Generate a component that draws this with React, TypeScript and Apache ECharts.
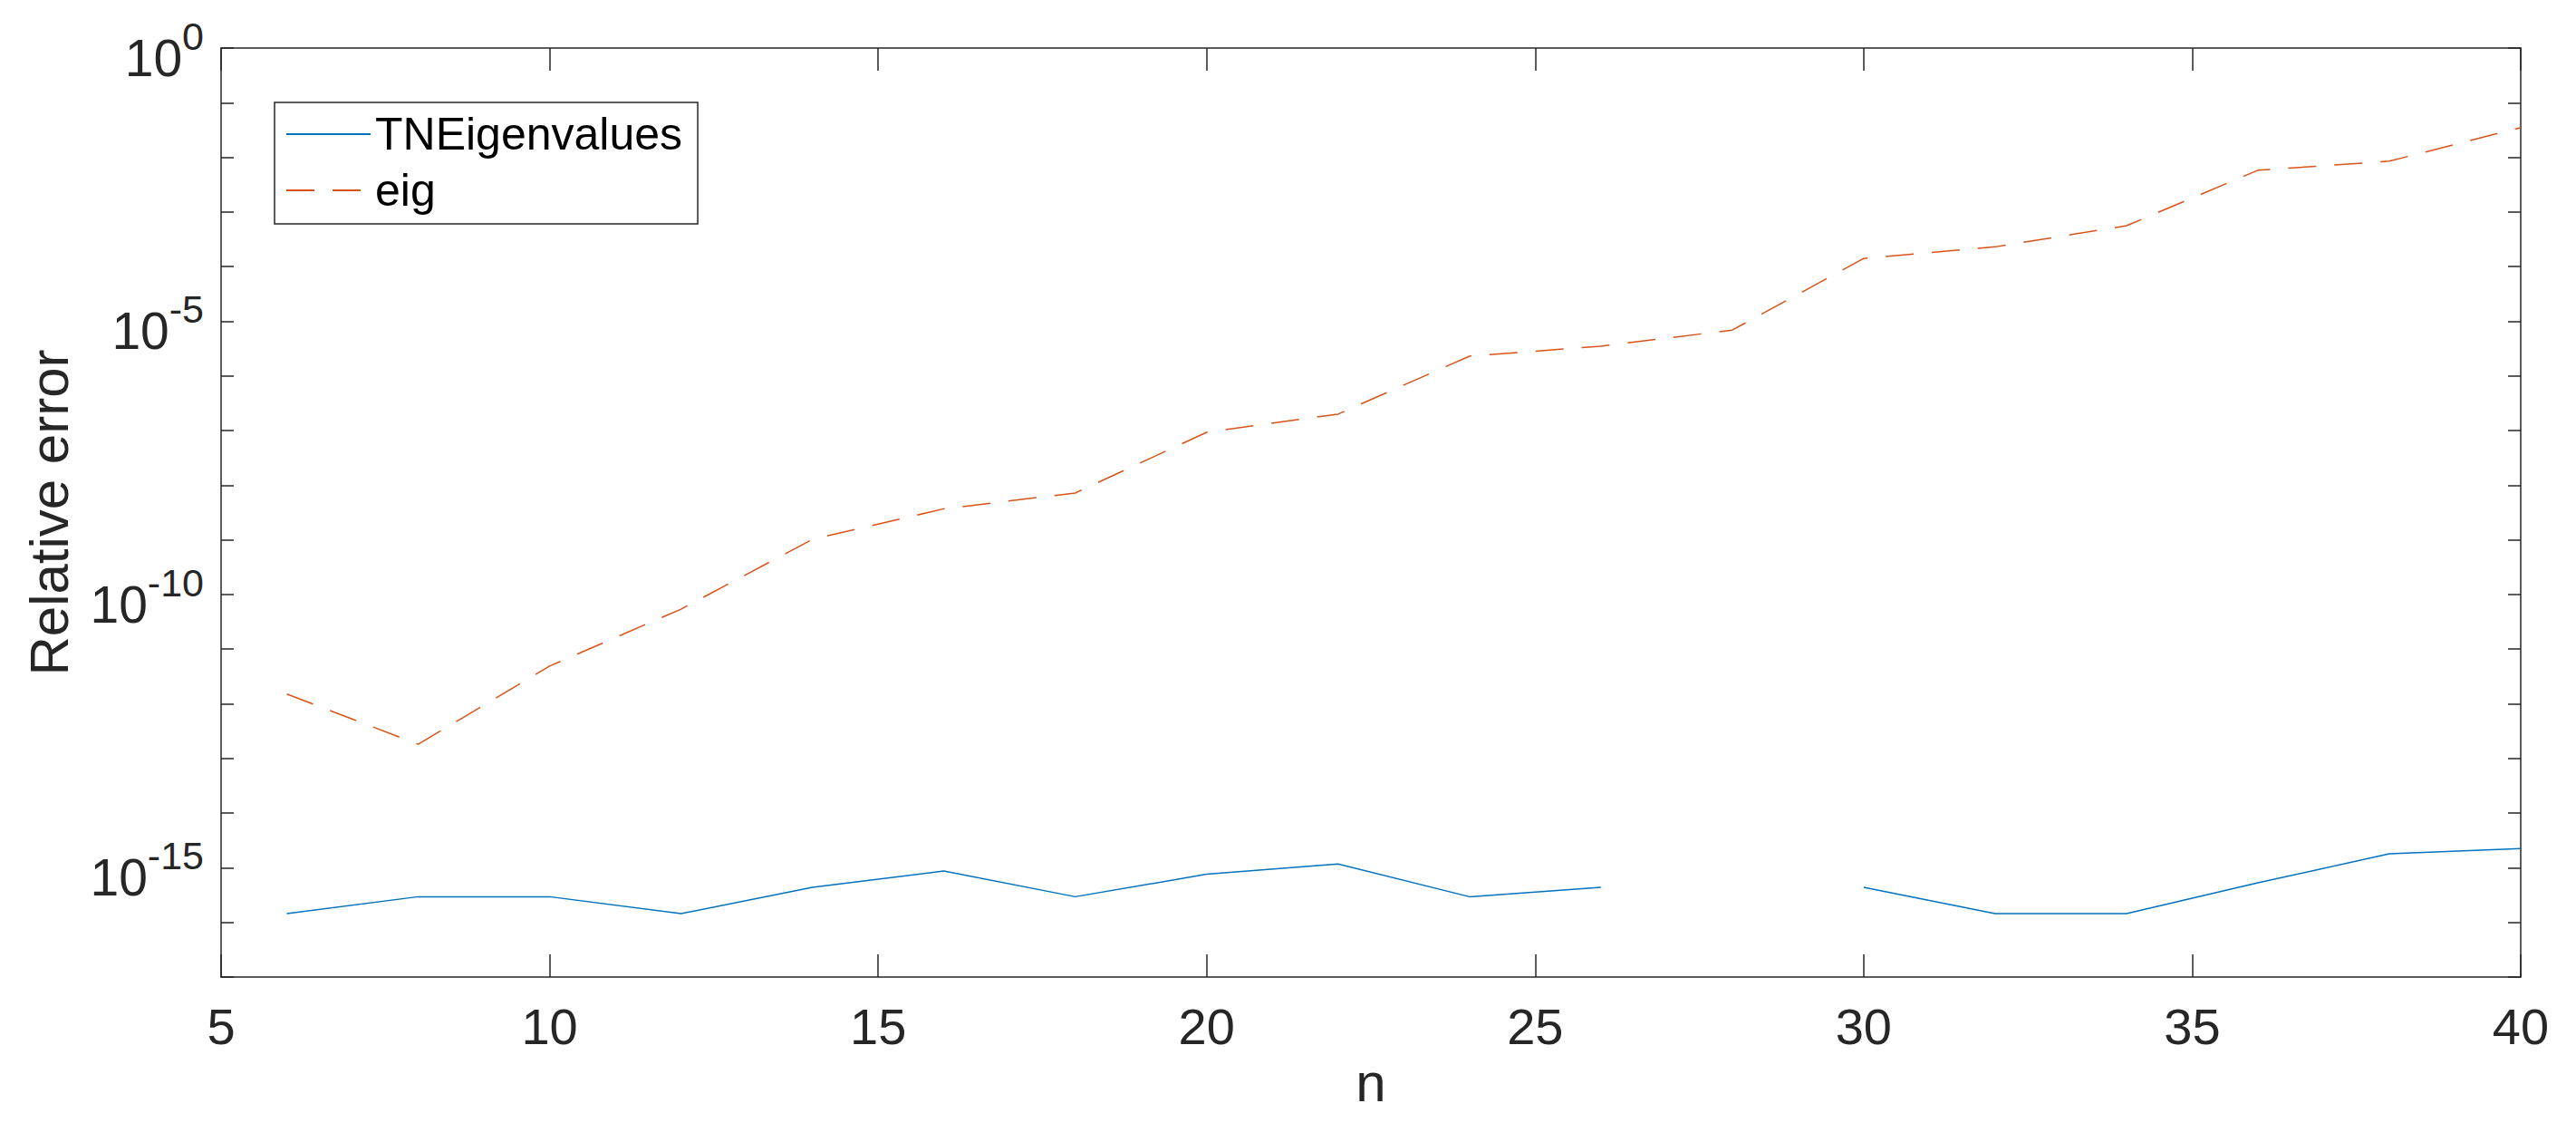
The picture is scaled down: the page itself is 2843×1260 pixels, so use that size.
import React, { useEffect, useRef } from "react";
import * as echarts from "echarts";

// n values (x axis)
const nValues = [6, 8, 10, 12, 14, 16, 18, 20, 22, 24, 26, 28, 30, 32, 34, 36, 38, 40];

// Relative error of TNEigenvalues (null = missing point)
const tneigValues: (number | null)[] = [
  1.45e-16, 2.95e-16, 2.95e-16, 1.45e-16, 4.4e-16, 8.7e-16, 2.95e-16, 7.6e-16, 1.17e-15,
  2.95e-16, 4.4e-16, null, 4.4e-16, 1.45e-16, 1.45e-16, 5.3e-16, 1.8e-15, 2.24e-15,
];

// Relative error of eig
const eigValues: number[] = [
  1.51e-12, 1.82e-13, 4.9e-12, 5.4e-11, 1.02e-9, 3.7e-9, 7.2e-9, 9.3e-8, 2.0e-7,
  2.3e-6, 3.5e-6, 6.9e-6, 1.41e-4, 2.3e-4, 5.6e-4, 5.8e-3, 8.5e-3, 3.5e-2,
];

// x ticks and y decades
const xTicks = { min: 5, max: 40, interval: 5 };
const yDecades = { min: -17, max: 0, interval: 1, labelEvery: 5 };

const seriesNames = ["TNEigenvalues", "eig"];

const FONT = "'Liberation Sans', Arial, Helvetica, sans-serif";
const AXIS_COLOR = "#262626";

function toLogPairs(values: (number | null)[]) {
  return values.map((v, i) => [nValues[i], v == null ? "-" : Math.log10(v)]);
}

export default function App() {
  const ref = useRef<HTMLDivElement>(null);

  useEffect(() => {
    if (!ref.current) return;
    document.body.style.margin = "0";
    const chart = echarts.init(ref.current, undefined, { renderer: "svg" });

    const axisLine = { show: true, onZero: false, lineStyle: { color: AXIS_COLOR, width: 1.5 } };

    const option: any = {
      animation: false,
      backgroundColor: "#ffffff",
      grid: { left: 244, right: 61, top: 53, bottom: 182, containLabel: false },
      legend: {
        data: seriesNames,
        orient: "vertical",
        left: 303,
        top: 113,
        padding: [10, 17, 12, 12],
        itemWidth: 93,
        itemHeight: 50,
        itemGap: 12,
        borderColor: AXIS_COLOR,
        borderWidth: 1.5,
        backgroundColor: "#ffffff",
        itemStyle: { opacity: 0, borderWidth: 0 },
        textStyle: { fontSize: 50, color: "#000000", fontFamily: FONT },
      },
      xAxis: [
        {
          type: "value",
          position: "bottom",
          min: xTicks.min,
          max: xTicks.max,
          interval: xTicks.interval,
          name: "n",
          nameLocation: "middle",
          nameGap: 83,
          nameTextStyle: { fontSize: 60, color: AXIS_COLOR, fontFamily: FONT },
          axisLine,
          axisTick: { show: true, inside: true, length: 25, lineStyle: { color: AXIS_COLOR, width: 1.5 } },
          axisLabel: { fontSize: 56, color: AXIS_COLOR, fontFamily: FONT, margin: 26 },
          splitLine: { show: false },
        },
        {
          type: "value",
          position: "top",
          min: xTicks.min,
          max: xTicks.max,
          interval: xTicks.interval,
          axisLine,
          axisTick: { show: true, inside: true, length: 25, lineStyle: { color: AXIS_COLOR, width: 1.5 } },
          axisLabel: { show: false },
          splitLine: { show: false },
        },
      ],
      yAxis: [
        {
          type: "value",
          position: "left",
          min: yDecades.min,
          max: yDecades.max,
          interval: yDecades.interval,
          name: "Relative error",
          nameLocation: "middle",
          nameGap: 160,
          nameTextStyle: { fontSize: 60, color: AXIS_COLOR, fontFamily: FONT },
          axisLine,
          axisTick: { show: true, inside: true, length: 14, lineStyle: { color: AXIS_COLOR, width: 1.5 } },
          axisLabel: {
            showMinLabel: true,
            showMaxLabel: true,
            margin: 19,
            color: AXIS_COLOR,
            fontFamily: FONT,
            formatter: (value: number) => {
              const e = Math.round(value);
              if (e % yDecades.labelEvery !== 0) return "";
              return `{b|10}{e|${e === 0 ? 0 : e}}`;
            },
            rich: {
              b: {
                fontSize: 57,
                lineHeight: 56,
                padding: [22, 0, 0, 0],
                color: AXIS_COLOR,
                fontFamily: FONT,
              },
              e: {
                fontSize: 43,
                lineHeight: 44,
                padding: [0, 0, 26, 0],
                color: AXIS_COLOR,
                fontFamily: FONT,
              },
            },
          },
          splitLine: { show: false },
        },
        {
          type: "value",
          position: "right",
          min: yDecades.min,
          max: yDecades.max,
          interval: yDecades.interval,
          axisLine,
          axisTick: { show: true, inside: true, length: 14, lineStyle: { color: AXIS_COLOR, width: 1.5 } },
          axisLabel: { show: false },
          splitLine: { show: false },
        },
      ],
      series: [
        {
          name: seriesNames[0],
          type: "line",
          xAxisIndex: 0,
          yAxisIndex: 0,
          data: toLogPairs(tneigValues),
          symbol: "none",
          showSymbol: false,
          connectNulls: false,
          itemStyle: { color: "#0072BD" },
          lineStyle: { color: "#0072BD", width: 1.5, type: "solid" },
        },
        {
          name: seriesNames[1],
          type: "line",
          xAxisIndex: 0,
          yAxisIndex: 0,
          data: toLogPairs(eigValues),
          symbol: "none",
          showSymbol: false,
          itemStyle: { color: "#D95319" },
          lineStyle: { color: "#D95319", width: 1.5, type: [31, 20] },
        },
      ],
    };

    chart.setOption(option);
    return () => {
      chart.dispose();
    };
  }, []);

  return (
    <div
      ref={ref}
      style={{ position: "absolute", left: 0, top: 0, width: 2843, height: 1260, background: "#fff" }}
    />
  );
}
